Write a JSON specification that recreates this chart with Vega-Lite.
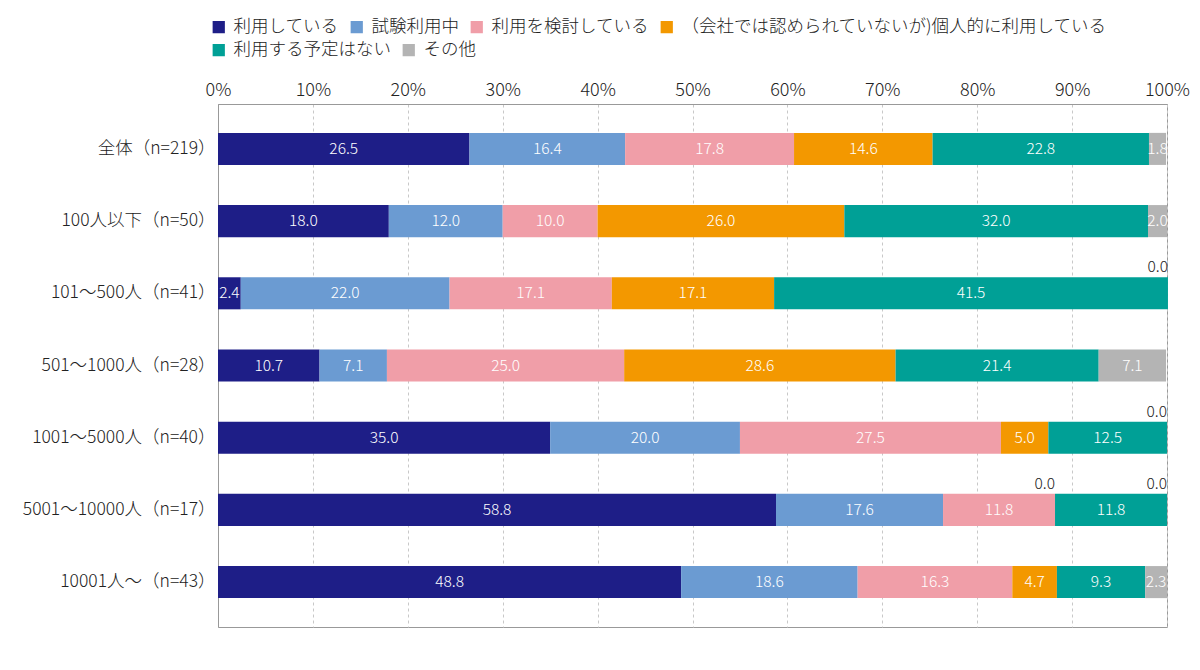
{
  "$schema": "https://vega.github.io/schema/vega-lite/v6.json",
  "autosize": {"type": "none"},
  "width": 949,
  "height": 523,
  "padding": {"left": 218, "top": 104, "right": 33, "bottom": 43},
  "config": {
    "font": "Noto Sans CJK JP",
    "view": {"stroke": "#999999", "strokeWidth": 1},
    "axis": {"labelFont": "Noto Sans CJK JP", "labelFontWeight": 300},
    "legend": {"labelFont": "Noto Sans CJK JP", "labelFontWeight": 300}
  },
  "data": {
    "values": [
      {"group": "全体（n=219）", "cat": "利用している", "order": 1, "value": 26.5},
      {"group": "全体（n=219）", "cat": "試験利用中", "order": 2, "value": 16.4},
      {"group": "全体（n=219）", "cat": "利用を検討している", "order": 3, "value": 17.8},
      {"group": "全体（n=219）", "cat": "（会社では認められていないが)個人的に利用している", "order": 4, "value": 14.6},
      {"group": "全体（n=219）", "cat": "利用する予定はない", "order": 5, "value": 22.8},
      {"group": "全体（n=219）", "cat": "その他", "order": 6, "value": 1.8},
      {"group": "100人以下（n=50）", "cat": "利用している", "order": 1, "value": 18.0},
      {"group": "100人以下（n=50）", "cat": "試験利用中", "order": 2, "value": 12.0},
      {"group": "100人以下（n=50）", "cat": "利用を検討している", "order": 3, "value": 10.0},
      {"group": "100人以下（n=50）", "cat": "（会社では認められていないが)個人的に利用している", "order": 4, "value": 26.0},
      {"group": "100人以下（n=50）", "cat": "利用する予定はない", "order": 5, "value": 32.0},
      {"group": "100人以下（n=50）", "cat": "その他", "order": 6, "value": 2.0},
      {"group": "101〜500人（n=41）", "cat": "利用している", "order": 1, "value": 2.4},
      {"group": "101〜500人（n=41）", "cat": "試験利用中", "order": 2, "value": 22.0},
      {"group": "101〜500人（n=41）", "cat": "利用を検討している", "order": 3, "value": 17.1},
      {"group": "101〜500人（n=41）", "cat": "（会社では認められていないが)個人的に利用している", "order": 4, "value": 17.1},
      {"group": "101〜500人（n=41）", "cat": "利用する予定はない", "order": 5, "value": 41.5},
      {"group": "101〜500人（n=41）", "cat": "その他", "order": 6, "value": 0.0},
      {"group": "501〜1000人（n=28）", "cat": "利用している", "order": 1, "value": 10.7},
      {"group": "501〜1000人（n=28）", "cat": "試験利用中", "order": 2, "value": 7.1},
      {"group": "501〜1000人（n=28）", "cat": "利用を検討している", "order": 3, "value": 25.0},
      {"group": "501〜1000人（n=28）", "cat": "（会社では認められていないが)個人的に利用している", "order": 4, "value": 28.6},
      {"group": "501〜1000人（n=28）", "cat": "利用する予定はない", "order": 5, "value": 21.4},
      {"group": "501〜1000人（n=28）", "cat": "その他", "order": 6, "value": 7.1},
      {"group": "1001〜5000人（n=40）", "cat": "利用している", "order": 1, "value": 35.0},
      {"group": "1001〜5000人（n=40）", "cat": "試験利用中", "order": 2, "value": 20.0},
      {"group": "1001〜5000人（n=40）", "cat": "利用を検討している", "order": 3, "value": 27.5},
      {"group": "1001〜5000人（n=40）", "cat": "（会社では認められていないが)個人的に利用している", "order": 4, "value": 5.0},
      {"group": "1001〜5000人（n=40）", "cat": "利用する予定はない", "order": 5, "value": 12.5},
      {"group": "1001〜5000人（n=40）", "cat": "その他", "order": 6, "value": 0.0},
      {"group": "5001〜10000人（n=17）", "cat": "利用している", "order": 1, "value": 58.8},
      {"group": "5001〜10000人（n=17）", "cat": "試験利用中", "order": 2, "value": 17.6},
      {"group": "5001〜10000人（n=17）", "cat": "利用を検討している", "order": 3, "value": 11.8},
      {"group": "5001〜10000人（n=17）", "cat": "（会社では認められていないが)個人的に利用している", "order": 4, "value": 0.0},
      {"group": "5001〜10000人（n=17）", "cat": "利用する予定はない", "order": 5, "value": 11.8},
      {"group": "5001〜10000人（n=17）", "cat": "その他", "order": 6, "value": 0.0},
      {"group": "10001人〜（n=43）", "cat": "利用している", "order": 1, "value": 48.8},
      {"group": "10001人〜（n=43）", "cat": "試験利用中", "order": 2, "value": 18.6},
      {"group": "10001人〜（n=43）", "cat": "利用を検討している", "order": 3, "value": 16.3},
      {"group": "10001人〜（n=43）", "cat": "（会社では認められていないが)個人的に利用している", "order": 4, "value": 4.7},
      {"group": "10001人〜（n=43）", "cat": "利用する予定はない", "order": 5, "value": 9.3},
      {"group": "10001人〜（n=43）", "cat": "その他", "order": 6, "value": 2.3}
    ]
  },
  "encoding": {
    "y": {
      "field": "group",
      "type": "nominal",
      "sort": null,
      "scale": {"paddingInner": 0.556, "paddingOuter": 0.4},
      "axis": {
        "title": null,
        "ticks": false,
        "labelPadding": 3,
        "labelFontSize": 17.5,
        "labelColor": "#222222",
        "domainColor": "#999999",
        "labelLimit": 260
      }
    }
  },
  "layer": [
    {
      "mark": {"type": "bar"},
      "encoding": {
        "x": {
          "field": "value",
          "type": "quantitative",
          "stack": "zero",
          "scale": {"domain": [0, 100], "nice": false},
          "axis": {
            "orient": "top",
            "title": null,
            "values": [0, 10, 20, 30, 40, 50, 60, 70, 80, 90, 100],
            "labelExpr": "datum.value + '%'",
            "labelFontSize": 18,
            "labelColor": "#222222",
            "labelPadding": 5,
            "ticks": false,
            "domainColor": "#999999",
            "grid": true,
            "gridColor": "#c8c8c8",
            "gridDash": [3, 3],
            "labelFlush": false
          }
        },
        "color": {
          "field": "cat",
          "type": "nominal",
          "scale": {
            "domain": ["利用している", "試験利用中", "利用を検討している", "（会社では認められていないが)個人的に利用している", "利用する予定はない", "その他"],
            "range": ["#1e1e87", "#6b9bd2", "#f09ea8", "#f39800", "#00a096", "#b4b4b4"]
          },
          "legend": {
            "title": null,
            "orient": "none",
            "legendX": -8,
            "legendY": -86,
            "direction": "horizontal",
            "values": ["利用している", "試験利用中", "利用を検討している", "（会社では認められていないが)個人的に利用している"],
            "symbolType": "square",
            "symbolSize": 150,
            "symbolStrokeWidth": 0,
            "labelFontSize": 17.5,
            "labelColor": "#222222",
            "labelOffset": 6,
            "columnPadding": 9,
            "labelLimit": 600
          }
        },
        "order": {"field": "order"}
      }
    },
    {
      "transform": [{"filter": "datum.order >= 5"}],
      "mark": {"type": "bar", "opacity": 0},
      "encoding": {
        "x": {"field": "value", "type": "quantitative", "stack": "zero"},
        "fill": {
          "field": "cat",
          "type": "nominal",
          "scale": {
            "domain": ["利用する予定はない", "その他"],
            "range": ["#00a096", "#b4b4b4"]
          },
          "legend": {
            "title": null,
            "orient": "none",
            "legendX": -8,
            "legendY": -63,
            "direction": "horizontal",
            "symbolType": "square",
            "symbolSize": 150,
            "symbolStrokeWidth": 0,
            "symbolOpacity": 1,
            "labelFontSize": 17.5,
            "labelColor": "#222222",
            "labelOffset": 6,
            "columnPadding": 9,
            "labelLimit": 600
          }
        },
        "order": {"field": "order"}
      }
    },
    {
      "transform": [{"filter": "datum.value > 0"}],
      "mark": {"type": "text", "color": "white", "fontSize": 15.5, "fontWeight": 300},
      "encoding": {
        "x": {"field": "value", "type": "quantitative", "stack": "zero", "bandPosition": 0.5},
        "detail": {"field": "cat"},
        "order": {"field": "order"},
        "text": {"field": "value", "type": "quantitative", "format": ".1f"}
      }
    },
    {
      "transform": [
        {"stack": "value", "groupby": ["group"], "sort": [{"field": "order", "order": "ascending"}], "as": ["x0", "x1"]},
        {"filter": "datum.value == 0"}
      ],
      "mark": {"type": "text", "color": "#222222", "fontSize": 15.5, "fontWeight": 300, "align": "right", "baseline": "bottom", "dy": -18},
      "encoding": {
        "x": {"field": "x1", "type": "quantitative"},
        "text": {"field": "value", "type": "quantitative", "format": ".1f"}
      }
    }
  ]
}
